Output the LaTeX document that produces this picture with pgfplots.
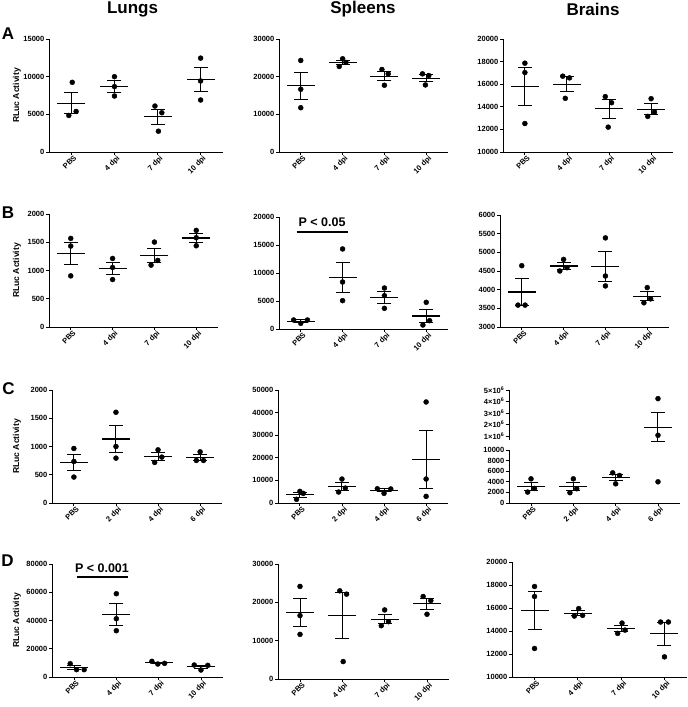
\documentclass[border=0pt]{standalone}
\usepackage{fontspec}
\setmainfont{Liberation Sans}
\usepackage{pgfplots}
\pgfplotsset{compat=1.18}

\pgfplotsset{
  panel/.style={scale only axis, anchor=south west, clip=false,
    axis x line*=bottom, axis y line*=left,
    xmin=-0.52, xmax=3.52, xtick={0,1,2,3},
    tick align=outside, major tick length=3pt,
    axis line style={line width=0.9pt, -},
    tick style={line width=0.9pt, black},
    ticklabel style={font=\bfseries\fontsize{7.5}{8}\selectfont},
    xticklabel style={rotate=45, anchor=north east, inner sep=0.5pt, xshift=2pt, yshift=-0.5pt},
    yticklabel style={inner sep=1.5pt},
    scaled y ticks=false,
    /pgf/number format/1000 sep={},
    /pgf/number format/assume math mode=true},
  dpiA/.style={xticklabels={PBS,4 dpi,7 dpi,10 dpi}},
  dpiC/.style={xticklabels={PBS,2 dpi,4 dpi,6 dpi}},
  dots/.style={only marks, mark=*, mark size=2.5pt, black},
  caps/.style={only marks, mark=-, mark size=7pt, mark options={line width=1pt}, black},
  mean/.style={only marks, mark=-, mark size=14pt, mark options={line width=1.1pt}, black,
    error bars/.cd, y dir=both, y explicit, error mark=none,
    error bar style={line width=1pt, black}},
}

\begin{document}
\begin{tikzpicture}
\useasboundingbox (0,0) rectangle (688pt,707pt);

% column titles and panel letters
\node[font=\bfseries\fontsize{17}{18}\selectfont] at (132.5pt,698pt) {Lungs};
\node[font=\bfseries\fontsize{17}{18}\selectfont] at (363pt,698pt) {Spleens};
\node[font=\bfseries\fontsize{17}{18}\selectfont] at (593pt,698pt) {Brains};
\node[font=\bfseries\fontsize{17}{18}\selectfont] at (8pt,673pt) {A};
\node[font=\bfseries\fontsize{17}{18}\selectfont] at (8pt,494.5pt) {B};
\node[font=\bfseries\fontsize{17}{18}\selectfont] at (8.5pt,318pt) {C};
\node[font=\bfseries\fontsize{17}{18}\selectfont] at (7.5pt,146pt) {D};
\foreach \yy in {611.5,436.5,260.5,86.5}
  \node[rotate=90, font=\bfseries\fontsize{8.6}{9}\selectfont] at (17pt,\yy pt) {RLuc Activity};

%% ---------------- row A ----------------
\begin{axis}[panel, dpiA, at={(49pt,555pt)}, width=174pt, height=113pt,
  ymin=0, ymax=15000, ytick={0,5000,10000,15000}]
\addplot[dots] coordinates {(0.02,9250) (0.11,5380) (-0.06,4850)
  (1,10000) (1,8680) (1,7430)
  (1.94,6100) (2.10,5210) (2.02,2760)
  (3,12460) (3,9430) (3,6900)};
\addplot[mean] coordinates {(0,6490) +- (0,1390) (1,8700) +- (0,740) (2,4690) +- (0,1000) (3,9600) +- (0,1610)};
\addplot[caps] coordinates {(0,7880) (0,5100) (1,9440) (1,7960) (2,5690) (2,3690) (3,11210) (3,7990)};
\end{axis}

\begin{axis}[panel, dpiA, at={(279pt,555pt)}, width=169pt, height=113pt,
  ymin=0, ymax=30000, ytick={0,10000,20000,30000}]
\addplot[dots] coordinates {(0,24300) (0,16650) (0,11750)
  (1,24750) (1.08,23780) (0.92,22700)
  (1.94,21900) (2.09,20750) (2,17720)
  (2.91,20750) (3.06,20300) (2.98,17800)};
\addplot[mean] coordinates {(0,17570) +- (0,3650) (1,23740) +- (0,590) (2,20120) +- (0,1250) (3,19620) +- (0,920)};
\addplot[caps] coordinates {(0,21220) (0,13920) (1,24330) (1,23150) (2,21370) (2,18870) (3,20540) (3,18700)};
\end{axis}

\begin{axis}[panel, dpiA, at={(503pt,555pt)}, width=170pt, height=113pt,
  ymin=10000, ymax=20000, ytick={10000,12000,...,20000}]
\addplot[dots] coordinates {(0,17860) (0,17030) (0,12520)
  (0.90,16710) (1.06,16560) (0.96,14750)
  (1.91,14900) (2.06,14360) (1.98,12200)
  (3,14720) (3.08,13530) (2.92,13150)};
\addplot[mean] coordinates {(0,15800) +- (0,1660) (1,16010) +- (0,630) (2,13820) +- (0,820) (3,13800) +- (0,470)};
\addplot[caps] coordinates {(0,17460) (0,14140) (1,16640) (1,15380) (2,14640) (2,13000) (3,14270) (3,13330)};
\end{axis}

%% ---------------- row B ----------------
\begin{axis}[panel, dpiA, at={(49pt,380pt)}, width=169pt, height=113pt,
  ymin=0, ymax=2000, ytick={0,500,...,2000}]
\addplot[dots] coordinates {(0,1568) (0,1432) (0,905)
  (1,1213) (1,1053) (1,840)
  (2,1503) (2.08,1178) (1.92,1095)
  (3,1710) (3,1580) (3,1438)};
\addplot[mean] coordinates {(0,1302) +- (0,202) (1,1035) +- (0,108) (2,1259) +- (0,124) (3,1576) +- (0,79)};
\addplot[caps] coordinates {(0,1504) (0,1100) (1,1143) (1,927) (2,1383) (2,1135) (3,1655) (3,1497)};
\end{axis}

\begin{axis}[panel, dpiA, at={(279pt,378pt)}, width=169pt, height=112pt,
  ymin=0, ymax=20000, ytick={0,5000,...,20000}]
\addplot[dots] coordinates {(-0.17,1610) (0,1010) (0.16,1610)
  (1,14290) (1,8390) (1,5060)
  (2,7320) (2,5950) (2,3690)
  (3,4760) (3.08,1490) (2.92,710)};
\addplot[mean] coordinates {(0,1410) +- (0,200) (1,9250) +- (0,2700) (2,5650) +- (0,1060) (3,2320) +- (0,1240)};
\addplot[caps] coordinates {(0,1610) (0,1210) (1,11950) (1,6550) (2,6710) (2,4590) (3,3560) (3,1080)};
\addplot[line width=2.6pt, black] coordinates {(-0.10,17300) (1.14,17300)};
\node[anchor=south, inner sep=0pt, font=\bfseries\fontsize{12.5}{13}\selectfont] at (axis cs:0.51,18250) {P < 0.05};
\end{axis}

\begin{axis}[panel, dpiA, at={(500pt,380pt)}, width=169pt, height=112pt,
  ymin=3000, ymax=6000, ytick={3000,3500,...,6000}]
\addplot[dots] coordinates {(0,4642) (-0.09,3586) (0.08,3586)
  (1,4810) (1.08,4588) (0.91,4500)
  (2,5387) (2,4366) (2,4100)
  (3,4056) (3.08,3754) (2.92,3648)};
\addplot[mean] coordinates {(0,3938) +- (0,352) (1,4633) +- (0,92) (2,4618) +- (0,392) (3,3819) +- (0,122)};
\addplot[caps] coordinates {(0,4290) (0,3586) (1,4725) (1,4541) (2,5010) (2,4226) (3,3941) (3,3697)};
\end{axis}

%% ---------------- row C ----------------
\begin{axis}[panel, dpiC, at={(52pt,204pt)}, width=170pt, height=113pt,
  ymin=0, ymax=2000, ytick={0,500,...,2000}]
\addplot[dots] coordinates {(0,965) (0,735) (0,459)
  (1,1606) (1,1000) (1,794)
  (2,941) (2.09,812) (1.92,718)
  (3,906) (2.91,753) (3.08,753)};
\addplot[mean] coordinates {(0,720) +- (0,146) (1,1133) +- (0,244) (2,824) +- (0,65) (3,804) +- (0,51)};
\addplot[caps] coordinates {(0,866) (0,574) (1,1377) (1,889) (2,889) (2,759) (3,855) (3,753)};
\end{axis}

\begin{axis}[panel, dpiC, at={(278pt,204pt)}, width=170pt, height=113pt,
  ymin=0, ymax=50000, ytick={0,10000,...,50000}]
\addplot[dots] coordinates {(0,5150) (0.08,4260) (-0.08,1620)
  (1,10600) (1.08,6600) (0.92,4850)
  (1.84,6300) (2.16,6200) (2,4260)
  (3,44700) (3,10600) (3,2940)};
\addplot[mean] coordinates {(0,3680) +- (0,1060) (1,7350) +- (0,1700) (2,5590) +- (0,660) (3,19410) +- (0,12840)};
\addplot[caps] coordinates {(0,4740) (0,2620) (1,9050) (1,5650) (2,6250) (2,4930) (3,32250) (3,6570)};
\end{axis}

% broken axis: lower part
\begin{axis}[panel, dpiC, at={(509pt,204pt)}, width=171pt, height=53pt,
  ymin=0, ymax=10000, ytick={0,2000,...,10000}]
\addplot[dots] coordinates {(0,4560) (0.08,2750) (-0.08,2060)
  (1,4560) (1.08,2690) (0.92,1940)
  (1.93,5690) (2.09,5190) (2,3620)
  (3,4000)};
\addplot[mean] coordinates {(0,3120) +- (0,745) (1,3060) +- (0,780) (2,4830) +- (0,620)};
\addplot[caps] coordinates {(0,3865) (0,2375) (1,3840) (1,2280) (2,5450) (2,4210)};
\end{axis}
% broken axis: upper part
\begin{axis}[panel, at={(509pt,267pt)}, width=171pt, height=50pt,
  axis x line=none, ymin=650000, ymax=5000000,
  ytick={1000000,2000000,3000000,4000000,5000000},
  yticklabels={1×10\textsuperscript{6},2×10\textsuperscript{6},3×10\textsuperscript{6},4×10\textsuperscript{6},5×10\textsuperscript{6}}]
\addplot[dots] coordinates {(3,4250000) (3,1060000)};
\addplot[mean] coordinates {(3,1770000) +- (0,1280000)};
\addplot[caps] coordinates {(3,3050000) (3,490000)};
\end{axis}

%% ---------------- row D ----------------
\begin{axis}[panel, dpiA, at={(52pt,30pt)}, width=171pt, height=113pt,
  ymin=0, ymax=80000, ytick={0,20000,...,80000}]
\addplot[dots] coordinates {(-0.09,9430) (0.06,5190) (0.24,5190)
  (1,58960) (1,41270) (1,32780)
  (1.84,11080) (1.98,9200) (2.14,9670)
  (2.84,8490) (3.16,8250) (3,4950)};
\addplot[mean] coordinates {(0,6600) +- (0,1410) (1,44340) +- (0,7710) (2,9980) +- (0,570) (3,7230) +- (0,1140)};
\addplot[caps] coordinates {(0,8010) (0,5190) (1,52050) (1,36630) (2,10550) (2,9410) (3,8370) (3,6090)};
\addplot[line width=2.6pt, black] coordinates {(0.06,70750) (1.27,70750)};
\node[anchor=south, inner sep=0pt, font=\bfseries\fontsize{12.5}{13}\selectfont] at (axis cs:0.66,73600) {P < 0.001};
\end{axis}

\begin{axis}[panel, dpiA, at={(278pt,28pt)}, width=171pt, height=115pt,
  ymin=0, ymax=30000, ytick={0,10000,20000,30000}]
\addplot[dots] coordinates {(0,24150) (0,16540) (0,11640)
  (0.94,23000) (1.10,22130) (1.02,4550)
  (2,18020) (2.09,14960) (1.92,13910)
  (2.91,21520) (3.09,20470) (3,16890)};
\addplot[mean] coordinates {(0,17440) +- (0,3640) (1,16560) +- (0,6010) (2,15630) +- (0,1230) (3,19630) +- (0,1400)};
\addplot[caps] coordinates {(0,21080) (0,13800) (1,22570) (1,10550) (2,16860) (2,14400) (3,21030) (3,18230)};
\end{axis}

\begin{axis}[panel, dpiA, at={(512pt,30pt)}, width=175pt, height=115pt,
  ymin=10000, ymax=20000, ytick={10000,12000,...,20000}]
\addplot[dots] coordinates {(0,17870) (0,17000) (0,12480)
  (1.02,15950) (0.92,15300) (1.11,15360)
  (2.02,14690) (2.09,14080) (1.92,13790)
  (2.91,14780) (3.09,14780) (3,11750)};
\addplot[mean] coordinates {(0,15780) +- (0,1670) (1,15540) +- (0,210) (2,14190) +- (0,260) (3,13770) +- (0,1010)};
\addplot[caps] coordinates {(0,17450) (0,14110) (1,15750) (1,15330) (2,14450) (2,13930) (3,14780) (3,12760)};
\end{axis}
\end{tikzpicture}
\end{document}
